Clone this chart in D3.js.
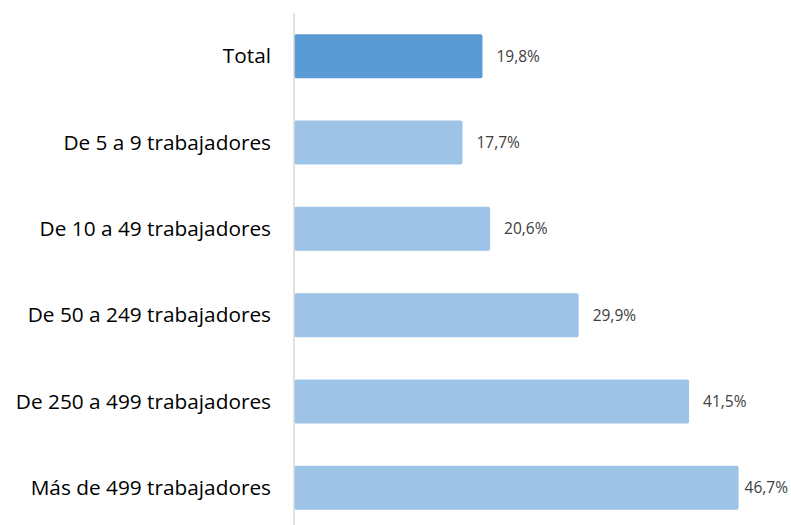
<!DOCTYPE html>
<html>
<head>
<meta charset="utf-8">
<script src="https://cdn.jsdelivr.net/npm/d3@7"></script>
<style>
  body { margin: 0; background: #fff; }
  svg { display: block; }
</style>
</head>
<body>
<svg id="chart" width="791" height="525"></svg>
<script>
// data
const categories = ["Total", "De 5 a 9 trabajadores", "De 10 a 49 trabajadores",
    "De 50 a 249 trabajadores", "De 250 a 499 trabajadores", "Más de 499 trabajadores"];
const values = [19.8, 17.7, 20.6, 29.9, 41.5, 46.7];
const barColors = ["#5B9BD5", "#9DC3E6", "#9DC3E6", "#9DC3E6", "#9DC3E6", "#9DC3E6"];

const width = 791, height = 525;
const svg = d3.select("#chart");

const rows = categories.map((c, i) => ({cat: c, value: values[i], fill: barColors[i]}));

const x = d3.scaleLinear().domain([0, 50]).range([294, 770]);
const y = d3.scaleBand().domain(categories).range([13, 531]).paddingInner(0.49).paddingOuter(0.245);

// bars
svg.selectAll(".bar")
    .data(rows)
    .join("rect")
    .attr("class", "bar")
    .attr("x", x(0))
    .attr("y", d => y(d.cat))
    .attr("width", d => x(d.value) - x(0))
    .attr("height", y.bandwidth())
    .attr("rx", 2)
    .attr("fill", d => d.fill);

// axis line
svg.append("line")
    .attr("x1", x(0)).attr("x2", x(0))
    .attr("y1", 13).attr("y2", height)
    .attr("stroke", "#d9d9d9")
    .attr("stroke-width", 1.5);

// category labels
svg.selectAll(".catLabel")
    .data(rows)
    .join("text")
    .attr("class", "catLabel")
    .attr("x", 271)
    .attr("y", d => y(d.cat) + y.bandwidth() / 2)
    .attr("dy", "0.35em")
    .attr("text-anchor", "end")
    .attr("font-family", "'Open Sans', sans-serif")
    .attr("font-size", 20.8)
    .attr("fill", "#000")
    .text(d => d.cat);

// value labels
const fmt = v => d3.format(".1f")(v).replace(".", ",") + "%";
svg.selectAll(".valLabel")
    .data(rows)
    .join("text")
    .attr("class", "valLabel")
    .attr("y", d => y(d.cat) + y.bandwidth() / 2)
    .attr("dy", "0.35em")
    .attr("font-family", "'Open Sans', sans-serif")
    .attr("font-size", 15.5)
    .attr("fill", "#404040")
    .text(d => fmt(d.value))
    .attr("x", function(d) {
        const w = this.getComputedTextLength();
        return Math.min(x(d.value) + 14, width - 3 - w);
    });
</script>
</body>
</html>
